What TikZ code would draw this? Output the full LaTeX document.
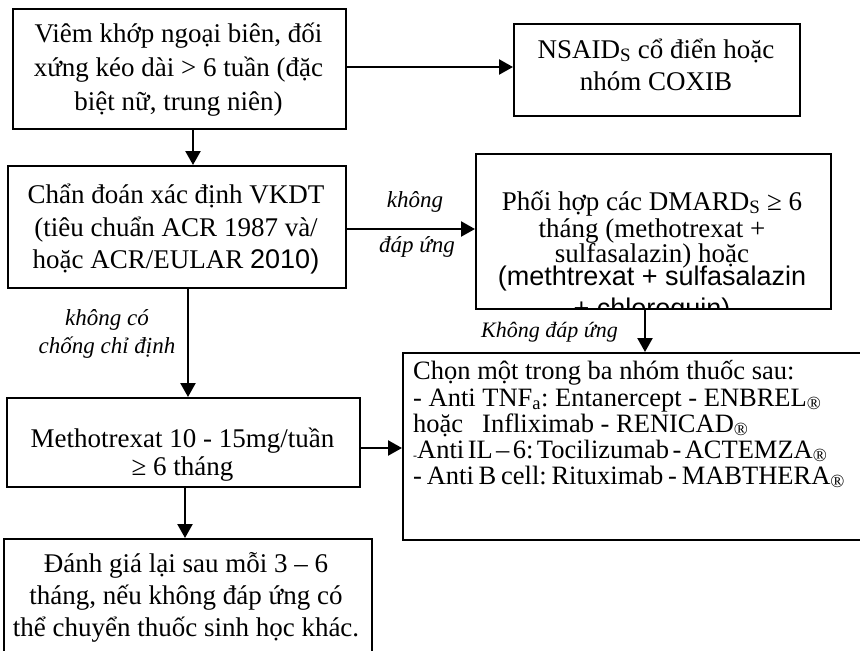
\documentclass[tikz,border=0pt]{standalone}
\usepackage{fontspec}
\setmainfont{Liberation Serif}
\newfontfamily\arialf{Liberation Sans}
\usetikzlibrary{arrows.meta,calc}
\frenchspacing
\begin{document}
\begin{tikzpicture}[x=1pt,y=-1pt,
 box/.style={draw, line width=1.8pt, rectangle, inner sep=0pt, anchor=north west},
 ln/.style={anchor=base, inner sep=0pt, font=\fontsize{27}{30}\selectfont\frenchspacing},
 lnl/.style={anchor=base west, inner sep=0pt, font=\fontsize{26.5}{30}\selectfont\frenchspacing},
 lbl/.style={anchor=base, inner sep=0pt, font=\fontsize{23}{26}\selectfont\itshape},
 arr/.style={line width=2.4pt, -{Triangle[length=14pt,width=15pt]}}]
\useasboundingbox (0,0) rectangle (860,651);
\clip (0,0) rectangle (860,651);
\fill[white] (0,0) rectangle (860,651);

% boxes
\node[box, minimum width=333pt, minimum height=120pt] (b1) at (12,8) {};
\node[box, minimum width=286pt, minimum height=92pt] (nsaid) at (513,23) {};
\node[box, minimum width=338pt, minimum height=122pt] (b2) at (7,165) {};
\node[box, minimum width=355pt, minimum height=155pt] (dmard) at (475,153) {};
\node[box, minimum width=353pt, minimum height=89pt] (metho) at (6,397) {};
\node[box, minimum width=480pt, minimum height=187pt] (big) at (402,352) {};
\node[box, minimum width=368pt, minimum height=125pt] (eval) at (3,538) {};

% box 1 text
\node[ln] (b1a) at (178.5,42) {Viêm khớp ngoại biên, đối};
\node[ln] (b1b) at (178.5,76) {xứng kéo dài > 6 tuần (đặc};
\node[ln] (b1c) at (178.5,110) {biệt nữ, trung niên)};

% NSAID text
\node[ln] (nsa) at (656,58) {NSAID\textsubscript{S} cổ điển hoặc};
\node[ln] (nsb) at (656,90) {nhóm COXIB};

% box 2 text
\node[ln] (b2a) at (176,203) {Chẩn đoán xác định VKDT};
\node[ln] (b2b) at (176,236) {(tiêu chuẩn ACR 1987 và/};
\node[ln] (b2c) at (176,268) {hoặc ACR/EULAR {\arialf 2010)}};

% DMARD text (clipped by the box)
\begin{scope}
\clip (dmard.north west) rectangle (dmard.south east);
\node[ln] (dma) at (652,210) {Phối hợp các DMARD\textsubscript{S} ≥ 6};
\node[ln] (dmb) at (652,237) {tháng (methotrexat +};
\node[ln] (dmc) at (652,262) {sulfasalazin) hoặc};
\node[ln, font=\fontsize{27}{30}\arialf] (dmd) at (652,285) {(methtrexat + sulfasalazin};
\node[ln, font=\fontsize{27}{30}\arialf] (dme) at (652,317) {+ chloroquin)};
\end{scope}

% Methotrexat text
\node[ln] (ma) at (182.5,447) {Methotrexat 10 - 15mg/tuần};
\node[ln] (mb) at (182.5,475) {≥ 6 tháng};

% big box text
\node[lnl] (ga) at (413,379) {Chọn một trong ba nhóm thuốc sau:};
\node[lnl] (gb) at (413,406) {- Anti TNF\textsubscript{a}: Entanercept - ENBREL\textsubscript{®}};
\node[lnl] (gc) at (413,432) {hoặc\hspace{19pt}Infliximab - RENICAD\textsubscript{®}};
\node[lnl] (gd) at (413,458) {\spaceskip=0.13em\raisebox{-1pt}{\fontsize{12}{12}\selectfont -}Anti IL – 6: Tocilizumab - ACTEMZA\textsubscript{®}};
\node[lnl] (ge) at (413,484) {\spaceskip=0.18em - Anti B cell: Rituximab - MABTHERA\textsubscript{®}};

% eval text
\node[ln] (ea) at (186,572) {Đánh giá lại sau mỗi 3 – 6};
\node[ln] (eb) at (186,604) {tháng, nếu không đáp ứng có};
\node[ln] (ec) at (186,636) {thể chuyển thuốc sinh học khác.};

% helper coordinates
\coordinate (x193) at (193,0);
\coordinate (x188) at (188,0);
\coordinate (x185) at (185,0);
\coordinate (x645) at (645,0);
\coordinate (y67) at (0,67);
\coordinate (y229) at (0,229);
\coordinate (y448) at (0,448);

% connectors
\draw[arr] (b1.east |- y67) -- (nsaid.west |- y67);
\draw[arr] (b1.south -| x193) -- (b2.north -| x193);
\draw[arr] (b2.east |- y229) -- (dmard.west |- y229);
\draw[arr] (b2.south -| x188) -- (metho.north -| x188);
\draw[arr] (dmard.south -| x645) -- (big.north -| x645);
\draw[arr] (metho.east |- y448) -- (big.west |- y448);
\draw[arr] (metho.south -| x185) -- (eval.north -| x185);

% labels
\node[lbl] (l1) at (415,207) {không};
\node[lbl] (l2) at (417,252) {đáp ứng};
\node[lbl] (l3) at (107,325) {không có};
\node[lbl] (l4) at (107,353) {chống chỉ định};
\node[lbl, anchor=base east, font=\fontsize{22}{26}\selectfont\itshape] (l5) at (618,337) {Không đáp ứng};
\end{tikzpicture}
\end{document}
